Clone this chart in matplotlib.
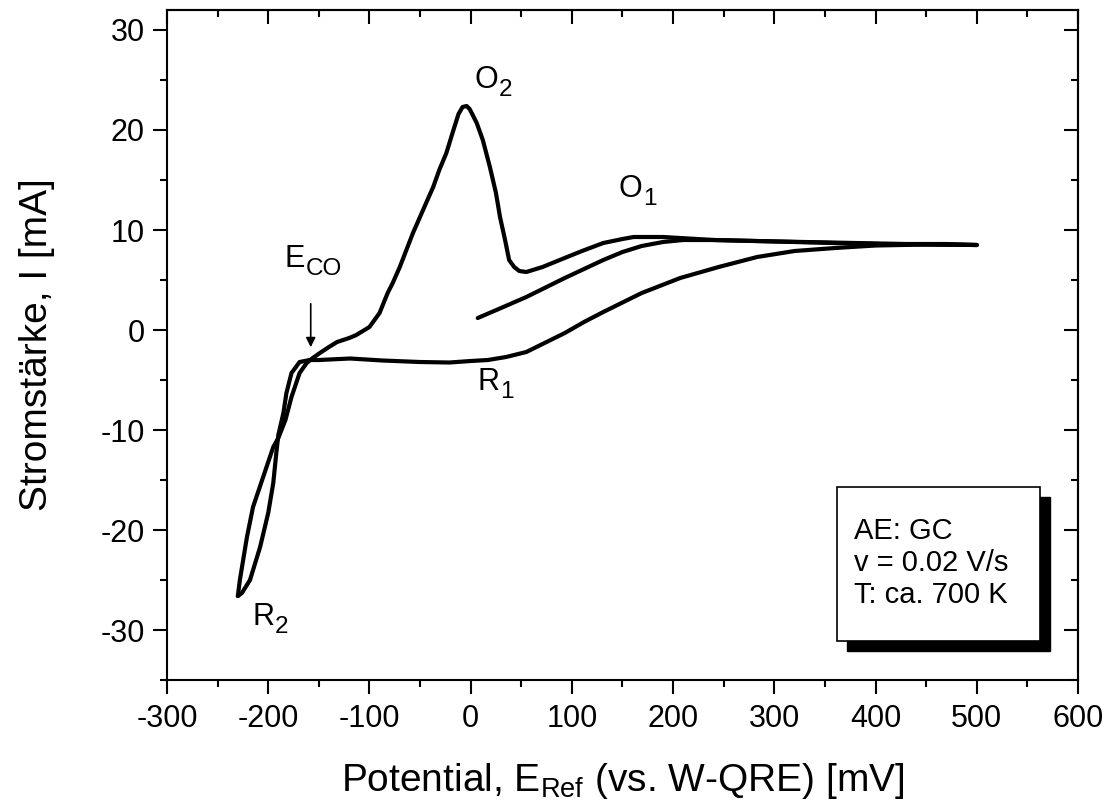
import matplotlib
matplotlib.use('Agg')
import matplotlib.pyplot as plt
from matplotlib.patches import Rectangle
from matplotlib.ticker import MultipleLocator

plt.rcParams['font.family'] = ['Liberation Sans', 'DejaVu Sans']
plt.rcParams['mathtext.fontset'] = 'custom'
plt.rcParams['mathtext.rm'] = 'Liberation Sans'
plt.rcParams['mathtext.it'] = 'Liberation Sans:italic'
plt.rcParams['axes.unicode_minus'] = False

# Scan 1: start potential -> anodic vertex (500 mV)
scan1_E = [7, 30, 55, 75, 93, 112, 131, 150, 169, 190, 210, 240, 280, 330, 380, 430, 470, 500]
scan1_I = [1.2, 2.2, 3.3, 4.3, 5.2, 6.1, 7.0, 7.8, 8.4, 8.8, 9.0, 9.0, 8.9, 8.8, 8.7, 8.6, 8.6, 8.5]

# Scan 2: cathodic sweep 500 mV -> -230 mV
scan2_E = [500, 450, 400, 360, 320, 283, 245, 207, 169, 131, 112, 93, 75, 55, 35, 17, 0,
           -21, -50, -87, -119, -150, -159, -169, -177, -182, -185, -190, -192, -195,
           -200, -208, -218, -226, -230]
scan2_I = [8.5, 8.55, 8.45, 8.2, 7.9, 7.3, 6.3, 5.2, 3.7, 1.8, 0.8, -0.3, -1.2, -2.2, -2.7, -3.0, -3.1,
           -3.25, -3.2, -3.05, -2.85, -3.0, -3.0, -3.2, -4.3, -6.3, -8.3, -10.5, -12.3, -15.3,
           -18.3, -21.7, -25.0, -26.3, -26.6]

# Scan 3: anodic sweep -230 mV -> 500 mV
scan3_E = [-230, -228, -221, -215, -205, -195, -190, -183, -177, -169, -162, -156, -149, -140,
           -132, -120, -113, -100, -90, -82, -77, -70, -57, -44, -37, -31, -24, -17, -12, -8,
           -4, -1, 3, 6, 12, 19, 25, 29, 34, 38, 43, 48, 55, 71, 88, 110, 131, 150, 161, 175,
           190, 207, 240, 283, 320, 359, 400, 450, 500]
scan3_I = [-26.6, -25.0, -20.7, -17.7, -14.7, -11.7, -10.8, -9.0, -6.7, -4.3, -3.3, -2.8, -2.3, -1.7,
           -1.2, -0.8, -0.5, 0.3, 1.7, 3.7, 4.7, 6.3, 9.7, 12.7, 14.3, 16.0, 17.7, 20.0, 21.6, 22.3,
           22.4, 22.1, 21.3, 20.7, 19.0, 16.3, 13.7, 11.3, 9.0, 7.0, 6.3, 5.9, 5.8, 6.3, 7.0, 7.9,
           8.7, 9.1, 9.3, 9.3, 9.3, 9.2, 9.0, 8.9, 8.8, 8.7, 8.6, 8.55, 8.5]

# peak labels: (x, y baseline, main letter, subscript)
peak_labels = [(4, 24.2, 'O', '2'), (146, 13.3, 'O', '1'), (7, -6.0, 'R', '1'),
               (-216, -29.5, 'R', '2'), (-184, 6.3, 'E', 'CO')]
info_lines = ['AE: GC', 'v = 0.02 V/s', 'T: ca. 700 K']

fig = plt.figure(figsize=(11.11, 8.06), dpi=100)
ax = fig.add_axes([0.1503, 0.1563, 0.82, 0.8313])

for E, I in [(scan1_E, scan1_I), (scan2_E, scan2_I), (scan3_E, scan3_I)]:
    ax.plot(E, I, color='black', lw=3.0, solid_joinstyle='round', solid_capstyle='round')

ax.set_xlim(-300, 600)
ax.set_ylim(-35, 32)
ax.xaxis.set_major_locator(MultipleLocator(100))
ax.xaxis.set_minor_locator(MultipleLocator(50))
ax.yaxis.set_major_locator(MultipleLocator(10))
ax.yaxis.set_minor_locator(MultipleLocator(5))
# bottom/left ticks point out, mirrored top/right ticks point in
ax.tick_params(which='both', direction='out', width=1.5, labelsize=22)
ax.tick_params(which='major', length=10)
ax.tick_params(which='minor', length=5)
ax.tick_params(axis='x', which='major', pad=7)
ax.tick_params(axis='y', which='major', pad=6)

sec_x = ax.secondary_xaxis('top')
sec_x.xaxis.set_major_locator(MultipleLocator(100))
sec_x.xaxis.set_minor_locator(MultipleLocator(50))
sec_x.set_xticklabels([])
sec_y = ax.secondary_yaxis('right')
sec_y.yaxis.set_major_locator(MultipleLocator(10))
sec_y.yaxis.set_minor_locator(MultipleLocator(5))
sec_y.set_yticklabels([])
for sec in (sec_x, sec_y):
    sec.tick_params(which='both', direction='in', width=1.5)
    sec.tick_params(which='major', length=10)
    sec.tick_params(which='minor', length=5)
    for sp in sec.spines.values():
        sp.set_linewidth(1.5)
for sp in ax.spines.values():
    sp.set_linewidth(1.5)

ax.set_xlabel(r'Potential, E$_\mathregular{Ref}$ (vs. W-QRE) [mV]', fontsize=28, labelpad=20)
ax.set_ylabel('Stromstärke, I [mA]', fontsize=28, labelpad=33)

renderer = fig.canvas.get_renderer()
for x, y, main, sub in peak_labels:
    t = ax.text(x, y, main, fontsize=22, va='baseline')
    w = t.get_window_extent(renderer).width * 72 / fig.dpi
    ax.annotate(sub, xy=(x, y), xytext=(w + 0.5, -6), textcoords='offset points',
                fontsize=17.5, va='baseline')

ax.annotate('', xy=(-158, -2.0), xytext=(-158, 2.9),
            arrowprops=dict(arrowstyle='-|>', color='black', lw=1.2, mutation_scale=14))

# info box with drop shadow
ax.add_patch(Rectangle((372, -32.1), 200, 15.4, facecolor='black', edgecolor='black', zorder=4))
ax.add_patch(Rectangle((362, -31.1), 200, 15.4, facecolor='white', edgecolor='black', lw=1.2, zorder=5))
ax.text(379, -23.3, '\n'.join(info_lines), fontsize=21, va='center', ha='left',
        linespacing=1.2, zorder=6)

fig.savefig('out.png', dpi=100)
